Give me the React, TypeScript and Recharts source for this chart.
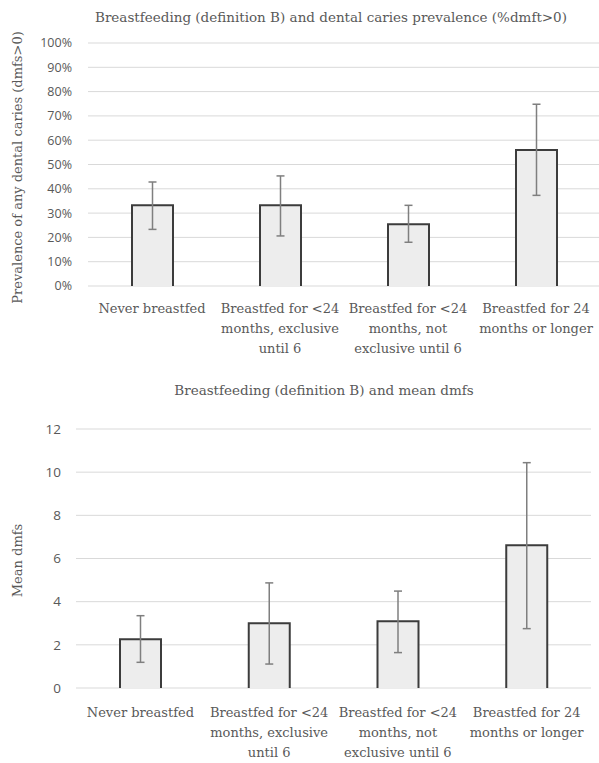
import React from 'react';
import { BarChart, Bar, XAxis, YAxis, CartesianGrid, ErrorBar } from 'recharts';

// ---- data ----
const categories = [
  'Never breastfed',
  'Breastfed for <24 months, exclusive until 6',
  'Breastfed for <24 months, not exclusive until 6',
  'Breastfed for 24 months or longer',
];
const categoryLines = [
  ['Never breastfed'],
  ['Breastfed for <24', 'months, exclusive', 'until 6'],
  ['Breastfed for <24', 'months, not', 'exclusive until 6'],
  ['Breastfed for 24', 'months or longer'],
];
const prevalence = [33.2, 33.2, 25.4, 56.0];
const prevalenceLow = [23.3, 20.6, 18.0, 37.3];
const prevalenceHigh = [42.8, 45.3, 33.2, 74.8];
const prevalenceTicks = [0, 10, 20, 30, 40, 50, 60, 70, 80, 90, 100];

const meanDmfs = [2.26, 3.0, 3.09, 6.61];
const meanLow = [1.19, 1.11, 1.64, 2.75];
const meanHigh = [3.35, 4.87, 4.49, 10.44];
const meanTicks = [0, 2, 4, 6, 8, 10, 12];

const topTitle = 'Breastfeeding (definition B) and dental caries prevalence (%dmft>0)';
const bottomTitle = 'Breastfeeding (definition B) and mean dmfs';
const topYLabel = 'Prevalence of any dental caries (dmfs>0)';
const bottomYLabel = 'Mean dmfs';

const prevData = categories.map((name, i) => ({
  name,
  value: prevalence[i],
  err: [prevalence[i] - prevalenceLow[i], prevalenceHigh[i] - prevalence[i]],
}));
const meanData = categories.map((name, i) => ({
  name,
  value: meanDmfs[i],
  err: [meanDmfs[i] - meanLow[i], meanHigh[i] - meanDmfs[i]],
}));

// ---- styles ----
const SERIF = '"DejaVu Serif", serif';
const SANS = '"Open Sans", sans-serif';
const TEXT = '#595959';

const CategoryTick = (props: any) => {
  const { x, y, payload } = props;
  const lines = categoryLines[payload.index] ?? [payload.value];
  return (
    <text x={x} y={y} textAnchor="middle" fill={TEXT} fontFamily={SERIF} fontSize={13}>
      {lines.map((l: string, i: number) => (
        <tspan key={i} x={x} dy={i === 0 ? '0.71em' : 20}>
          {l}
        </tspan>
      ))}
    </text>
  );
};

const OpenBar = (props: any) => {
  const { x, y, width, height } = props;
  if (height == null || width == null) return null;
  return (
    <g>
      <rect x={x} y={y} width={width} height={height} fill="#ededed" />
      <path
        d={`M${x},${y + height}V${y}H${x + width}V${y + height}`}
        fill="none"
        stroke="#3c3c3c"
        strokeWidth={2}
      />
    </g>
  );
};

const yLabel = (text: string, xPos: number, shift: number, size: number) => (p: any) => {
  const vb = p.viewBox || {};
  const cy = (vb.y ?? 0) + (vb.height ?? 0) / 2 + shift;
  return (
    <text
      transform={`translate(${xPos}, ${cy}) rotate(-90)`}
      textAnchor="middle"
      dominantBaseline="central"
      fill={TEXT}
      fontFamily={SERIF}
      fontSize={size}
    >
      {text}
    </text>
  );
};

const titleStyle = (top: number, center: number): React.CSSProperties => ({
  position: 'absolute',
  top,
  left: center - 300,
  width: 600,
  textAlign: 'center',
  fontFamily: SERIF,
  fontSize: 13.5,
  lineHeight: '16px',
  color: TEXT,
  whiteSpace: 'nowrap',
});

export default function App() {
  return (
    <div
      style={{
        position: 'absolute',
        left: 0,
        top: 0,
        width: 599,
        height: 763,
        overflow: 'hidden',
        background: '#fff',
      }}
    >
      <div style={titleStyle(9, 331)}>{topTitle}</div>
      <div style={{ position: 'absolute', left: 0, top: 0 }}>
        <BarChart
          width={600}
          height={370}
          data={prevData}
          margin={{ top: 43, right: 0, bottom: 0, left: 0 }}
          barSize={41}
        >
          <CartesianGrid vertical={false} stroke="#d9d9d9" strokeWidth={1} />
          <XAxis
            dataKey="name"
            axisLine={false}
            tickLine={false}
            height={84}
            interval={0}
            tickMargin={12}
            tick={<CategoryTick />}
          />
          <YAxis
            width={88}
            domain={[0, 100]}
            ticks={prevalenceTicks}
            interval={0}
            axisLine={false}
            tickLine={false}
            tickMargin={10}
            tickFormatter={(v: number) => `${v}%`}
            tick={{ fill: TEXT, fontSize: 12.5, fontFamily: SANS }}
            label={{ content: yLabel(topYLabel, 17, 3, 13) }}
          />
          <Bar dataKey="value" shape={<OpenBar />} isAnimationActive={false}>
            <ErrorBar dataKey="err" width={4} stroke="#7f7f7f" strokeWidth={1.5} direction="y" />
          </Bar>
        </BarChart>
      </div>

      <div style={titleStyle(382, 324)}>{bottomTitle}</div>
      <div style={{ position: 'absolute', left: 0, top: 370 }}>
        <BarChart
          width={599}
          height={393}
          data={meanData}
          margin={{ top: 59, right: 8, bottom: 0, left: 0 }}
          barSize={41}
        >
          <CartesianGrid vertical={false} stroke="#d9d9d9" strokeWidth={1} />
          <XAxis
            dataKey="name"
            axisLine={false}
            tickLine={false}
            height={75}
            interval={0}
            tickMargin={14}
            tick={<CategoryTick />}
          />
          <YAxis
            width={76}
            domain={[0, 12]}
            ticks={meanTicks}
            interval={0}
            axisLine={false}
            tickLine={false}
            tickMargin={9}
            tick={{ fill: TEXT, fontSize: 13.5, fontFamily: SANS }}
            label={{ content: yLabel(bottomYLabel, 17, 2, 13) }}
          />
          <Bar dataKey="value" shape={<OpenBar />} isAnimationActive={false}>
            <ErrorBar dataKey="err" width={4} stroke="#7f7f7f" strokeWidth={1.5} direction="y" />
          </Bar>
        </BarChart>
      </div>
    </div>
  );
}
